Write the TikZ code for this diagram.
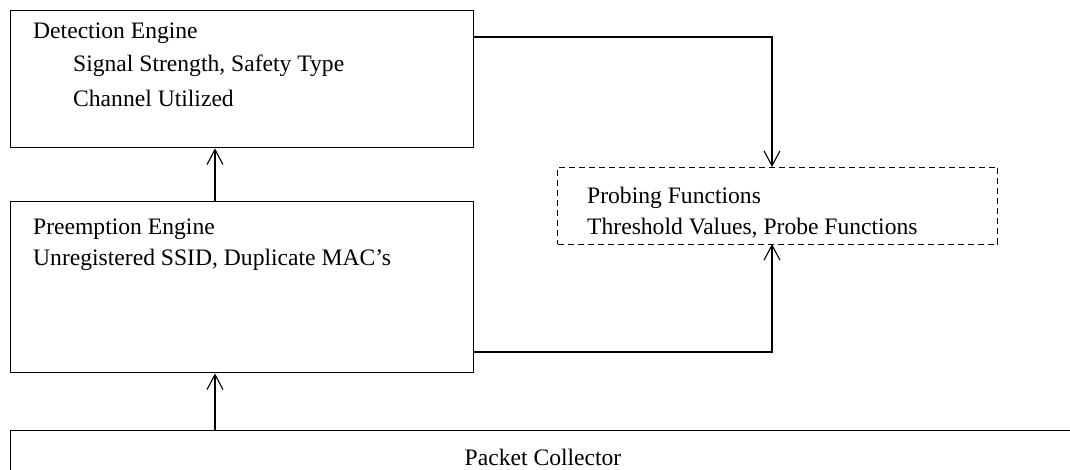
\documentclass[tikz,border=0pt]{standalone}
\usepackage{fontspec}
\setmainfont{Liberation Serif}
\usetikzlibrary{arrows.meta,calc}
\begin{document}
\begin{tikzpicture}[x=1pt,y=-1pt,
  box/.style={draw,line width=1.4pt,rectangle,anchor=north west,inner sep=0pt},
  dbox/.style={draw,line width=1pt,dash pattern=on 6pt off 4pt,rectangle,anchor=north west,inner sep=0pt},
  txt/.style={anchor=west,inner sep=0pt,font=\fontsize{23.6}{28}\selectfont},
  conn/.style={line width=1.1pt,-{Straight Barb[length=15pt,width=16pt,line width=1.1pt]}}]
\useasboundingbox (0,0) rectangle (1070,470);
\fill[white] (0,0) rectangle (1070,470);
% boxes
\node[box,minimum width=463pt,minimum height=137pt] (det) at (10,10) {};
\node[box,minimum width=463pt,minimum height=171pt] (pre) at (10,201) {};
\node[dbox,minimum width=440pt,minimum height=77pt] (prob) at (557,167) {};
\node[box,minimum width=1070pt,minimum height=60pt] (pkt) at (10,430) {};
% texts
\node[txt] (t1) at (33,33) {Detection Engine};
\node[txt] (t2) at (73,66) {Signal Strength, Safety Type};
\node[txt] (t3) at (73,98) {Channel Utilized};
\node[txt] (t4) at (33,229) {Preemption Engine};
\node[txt] (t5) at (33,260) {Unregistered SSID, Duplicate MAC’s};
\node[txt] (t6) at (587,198) {Probing Functions};
\node[txt] (t7) at (587,228) {Threshold Values, Probe Functions};
\node[txt,anchor=center] (t8) at (543,457.5) {Packet Collector};
% connectors
\coordinate (a1) at (473,37);
\coordinate (a2) at (772,167);
\draw[conn] (a1) -| (a2);
\coordinate (b1) at (473,352);
\coordinate (b2) at (772,244);
\draw[conn] (b1) -| (b2);
\draw[conn] (pkt.north west -| 215,0) -- (pre.south west -| 215,0);
\draw[conn] (pre.north west -| 215,0) -- (det.south west -| 215,0);
\end{tikzpicture}
\end{document}
